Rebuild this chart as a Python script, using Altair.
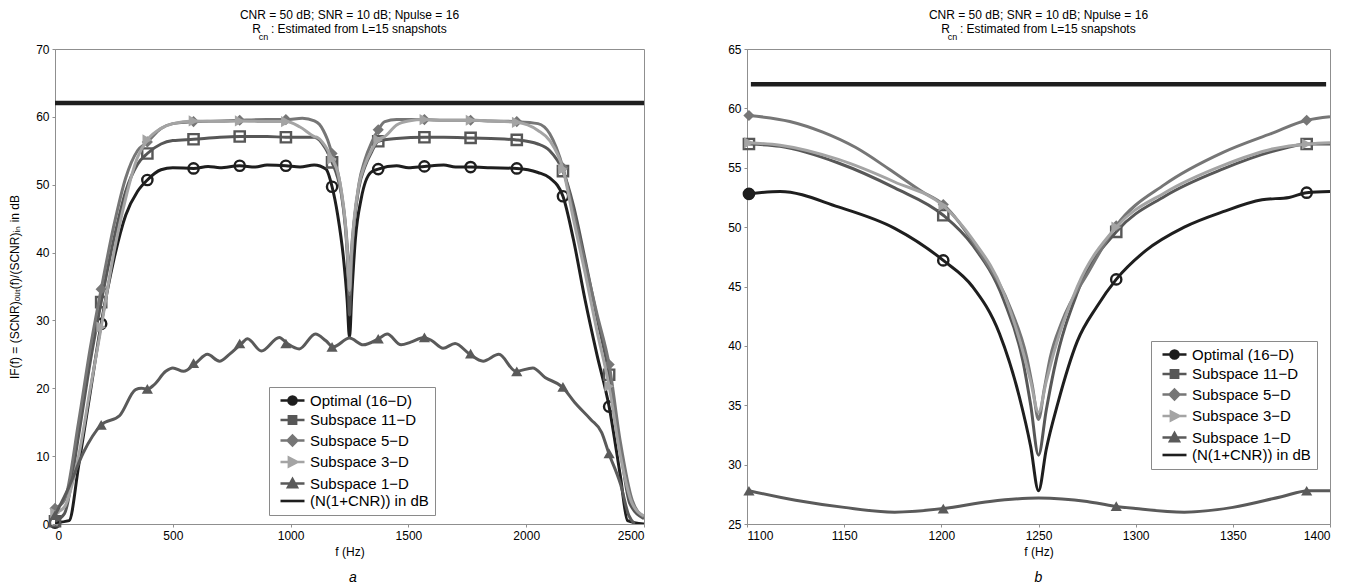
import altair as alt
import pandas as pd

SERIES = ["Optimal (16\u2212D)", "Subspace 11\u2212D", "Subspace 5\u2212D",
          "Subspace 3\u2212D", "Subspace 1\u2212D", "(N(1+CNR)) in dB"]
COLORS = ["#1e1e1e", "#575757", "#767676", "#a4a4a4", "#5a5a5a", "#1e1e1e"]
MARKERS = ["circle", "square", "diamond", "triangle-right", "triangle-up"]
MARKER_FILLED = [False, False, True, True, True]
LEGEND_PATHS = [
    "M-3,0L3,0M1,0A1,1,0,1,1,-1,0A1,1,0,1,1,1,0Z",
    "M-3,0L3,0M-0.9,-0.9L0.9,-0.9L0.9,0.9L-0.9,0.9Z",
    "M-3,0L3,0M0,-1.2L1.2,0L0,1.2L-1.2,0Z",
    "M-3,0L3,0M-0.9,-1.1L1.2,0L-0.9,1.1Z",
    "M-3,0L3,0M0,-1.1L1.1,0.9L-1.1,0.9Z",
    "M-3,0L3,0",
]
N_DB = 62.04

# ---------------- panel a : full band ----------------
A_OPT_F = [0, 60, 100, 150, 196, 250, 300, 350, 392, 450, 500, 588, 650, 700, 784, 850, 900, 980,
           1040, 1100, 1150, 1176, 1200, 1225, 1240, 1250, 1260, 1275, 1300, 1340, 1372, 1450,
           1500, 1568, 1650, 1700, 1764, 1850, 1960, 2050, 2100, 2156, 2200, 2250, 2300, 2352,
           2400, 2430, 2500]
A_OPT_V = [0.2, 0.5, 8.5, 19.5, 29.5, 39.0, 45.5, 49.0, 50.7, 52.2, 52.5, 52.4, 52.7, 52.5, 52.8,
           52.6, 52.9, 52.8, 52.6, 52.9, 52.3, 49.7, 45.5, 39.0, 33.0, 27.5, 34.0, 42.0, 48.0, 51.8,
           52.3, 52.8, 52.5, 52.7, 52.9, 52.6, 52.6, 52.5, 52.4, 51.8, 51.0, 48.3, 42.0, 33.0,
           25.0, 17.3, 7.0, 0.5, 0.0]

A_11_F = [0, 40, 100, 150, 196, 250, 300, 350, 392, 450, 500, 588, 700, 784, 900, 980, 1050,
          1101, 1147, 1176, 1200, 1216, 1232, 1242, 1250, 1258, 1270, 1290, 1315, 1345, 1372,
          1450, 1568, 1650, 1764, 1850, 1960, 2050, 2100, 2156, 2200, 2250, 2300, 2352, 2400,
          2440, 2500]
A_11_V = [0.4, 1.5, 13.0, 24.0, 32.7, 42.0, 49.0, 53.0, 54.6, 56.0, 56.5, 56.7, 57.0, 57.1, 57.1,
          57.0, 57.0, 57.0, 55.4, 53.3, 51.0, 48.5, 43.9, 38.7, 30.8, 38.0, 44.5, 49.6, 52.6,
          54.9, 56.4, 56.8, 57.0, 57.0, 56.9, 56.8, 56.6, 56.0, 55.0, 52.0, 47.0, 39.0, 30.5,
          22.0, 11.0, 3.0, 0.8]

A_5_F = [0, 40, 100, 150, 196, 250, 300, 350, 392, 450, 500, 588, 700, 784, 900, 980, 1050,
         1101, 1122, 1139, 1156, 1173, 1190, 1200, 1220, 1236, 1244, 1250, 1256, 1262, 1276,
         1290, 1315, 1345, 1372, 1400, 1450, 1568, 1650, 1764, 1850, 1960, 2050, 2100, 2156,
         2200, 2250, 2300, 2352, 2400, 2450, 2500]
A_5_V = [2.3, 3.5, 15.0, 26.0, 34.6, 44.0, 51.0, 55.0, 56.3, 58.3, 59.0, 59.3, 59.4, 59.5, 59.6,
         59.6, 59.8, 59.4, 58.9, 58.0, 56.7, 54.9, 53.0, 51.9, 47.8, 43.0, 39.0, 33.8, 39.0,
         42.0, 46.3, 50.1, 53.6, 56.3, 58.1, 59.3, 59.6, 59.6, 59.5, 59.5, 59.4, 59.3, 59.0,
         57.5, 52.5, 46.0, 38.5, 31.0, 23.5, 12.0, 3.5, 1.0]

A_3_F = [0, 40, 100, 150, 196, 250, 300, 350, 392, 450, 500, 588, 700, 784, 900, 980, 1040,
         1101, 1117, 1147, 1176, 1200, 1216, 1232, 1242, 1250, 1258, 1270, 1290, 1315, 1345,
         1371, 1400, 1450, 1500, 1568, 1650, 1764, 1850, 1960, 2050, 2100, 2156, 2200, 2250,
         2300, 2352, 2400, 2450, 2500]
A_3_V = [1.6, 2.5, 10.0, 20.0, 29.0, 40.0, 48.0, 54.0, 56.6, 58.3, 59.0, 59.4, 59.3, 59.4, 59.3,
         59.3, 58.5, 57.1, 56.9, 55.7, 53.8, 51.8, 49.0, 44.5, 39.5, 34.4, 39.5, 45.0, 50.0,
         52.9, 55.2, 56.6, 57.1, 58.8, 59.4, 59.6, 59.5, 59.5, 59.4, 59.2, 58.0, 56.5, 52.3,
         45.0, 37.0, 28.5, 20.3, 10.0, 3.0, 1.2]

A_1_F = [0, 60, 120, 196, 275, 342, 367, 393, 420, 470, 500, 546, 597, 647, 698, 740, 792, 817,
         876, 952, 986, 1037, 1105, 1150, 1181, 1250, 1308, 1373, 1410, 1469, 1510, 1566, 1600,
         1647, 1698, 1758, 1817, 1884, 1956, 2028, 2080, 2153, 2206, 2274, 2320, 2351, 2401,
         2435, 2460]
A_1_V = [1.3, 5.5, 10.5, 14.6, 16.0, 19.8, 20.0, 19.9, 20.5, 22.5, 23.0, 22.5, 23.7, 25.0, 24.0,
         25.0, 26.6, 27.3, 25.5, 27.5, 26.6, 25.8, 28.0, 27.0, 26.1, 27.4, 26.4, 27.3, 28.0,
         26.4, 26.8, 27.5, 27.0, 25.9, 26.6, 25.1, 24.0, 25.0, 22.5, 23.0, 21.6, 20.2, 17.9,
         15.4, 13.5, 10.4, 5.8, 1.3, 0.0]

A_MK_F = [0, 196, 392, 588, 784, 980, 1176, 1372, 1568, 1764, 1960, 2156, 2352]
A_MK_OPT = [0.2, 29.5, 50.7, 52.4, 52.8, 52.8, 49.7, 52.3, 52.7, 52.6, 52.4, 48.3, 17.3]
A_MK_11 = [0.4, 32.7, 54.6, 56.7, 57.1, 57.0, 53.3, 56.4, 57.0, 56.9, 56.6, 52.0, 22.0]
A_MK_5 = [2.3, 34.6, 56.3, 59.3, 59.5, 59.6, 54.6, 58.1, 59.6, 59.5, 59.3, 52.5, 23.5]
A_MK_3 = [1.6, 29.0, 56.6, 59.4, 59.4, 59.3, 53.8, 56.6, 59.6, 59.5, 59.2, 52.3, 20.3]
A_MK_1 = [1.3, 14.6, 19.9, 23.7, 26.6, 26.6, 26.1, 27.3, 27.5, 25.1, 22.5, 20.2, 10.4]
A_N_F = [0, 2500]
A_SOLID_F = []
A_SOLID_V = []

# ---------------- panel b : zoom around 1250 Hz ----------------
B_OPT_F = [1101, 1117, 1147, 1176, 1201, 1216, 1230, 1240, 1246, 1250, 1254, 1260, 1270, 1280,
           1290, 1305, 1325, 1345, 1365, 1379, 1388, 1400]
B_OPT_V = [52.8, 53.0, 51.7, 49.9, 47.2, 45.0, 41.0, 35.8, 31.5, 27.8, 31.3, 35.2, 40.4, 43.3,
           45.6, 48.0, 50.0, 51.3, 52.3, 52.5, 52.9, 53.0]
B_11_F = [1101, 1117, 1147, 1176, 1201, 1216, 1232, 1242, 1246, 1250, 1254, 1258, 1270, 1290,
          1315, 1345, 1371, 1389, 1400]
B_11_V = [57.0, 56.8, 55.4, 53.3, 51.0, 48.5, 43.9, 38.7, 35.0, 30.8, 34.6, 38.0, 44.5, 49.6,
          52.6, 54.9, 56.4, 57.0, 57.0]
B_5_F = [1101, 1122, 1139, 1156, 1173, 1190, 1201, 1220, 1236, 1244, 1247, 1250, 1253, 1256,
         1262, 1276, 1290, 1315, 1345, 1370, 1388, 1400]
B_5_V = [59.4, 58.9, 58.0, 56.7, 54.9, 53.0, 51.9, 47.8, 43.0, 39.0, 36.5, 33.8, 36.4, 39.0,
         42.0, 46.3, 50.1, 53.6, 56.3, 57.9, 59.0, 59.3]
B_3_F = [1101, 1117, 1147, 1176, 1201, 1216, 1232, 1242, 1246, 1250, 1254, 1258, 1270, 1290,
         1315, 1345, 1371, 1389, 1400]
B_3_V = [57.1, 56.9, 55.7, 53.8, 51.8, 49.0, 44.5, 39.5, 37.0, 34.4, 37.0, 39.5, 45.0, 50.0,
         52.9, 55.2, 56.6, 57.0, 57.1]
B_1_F = [1101, 1125, 1150, 1176, 1201, 1225, 1250, 1275, 1289, 1300, 1325, 1350, 1375, 1389, 1400]
B_1_V = [27.8, 27.0, 26.4, 26.0, 26.3, 26.9, 27.2, 26.9, 26.5, 26.3, 26.0, 26.4, 27.3, 27.8, 27.8]

B_MK_F = [1101, 1201, 1290, 1388]
B_MK_OPT = [52.8, 47.2, 45.6, 52.9]
B_MK_11 = [57.0, 51.0, 49.6, 57.0]
B_MK_5 = [59.4, 51.9, 50.1, 59.0]
B_MK_3 = [57.1, 51.8, 50.0, 57.0]
B_MK_1 = [27.8, 26.3, 26.5, 27.8]
B_N_F = [1102, 1398]
B_SOLID_F = [1101]
B_SOLID_V = [52.8]

TITLE_1 = "CNR = 50 dB; SNR = 10 dB; Npulse = 16"
TITLE_2 = "R\u00a0\u00a0\u00a0: Estimated from L=15 snapshots"
SUB_CN = "cn" + "\u00a0" * 66 + "\u2800"
Y_TITLE = "IF(f) = (SCNR)\u2092\u1d64\u209c(f)/(SCNR)\u1d62\u2099  in dB"
FONT = "Liberation Sans"


def build_panel(curves, marks, mk_f, n_f, solid, xdom, xvals, ydom, yvals, ytitle,
                leg_x, leg_y, width, height):
    x_enc = alt.X("f:Q", scale=alt.Scale(domain=xdom, nice=False, zero=False),
                  axis=alt.Axis(values=xvals, title="f (Hz)", format="d", titlePadding=5))
    if ytitle:
        y_axis = alt.Axis(values=yvals, title=ytitle, titlePadding=14)
    else:
        y_axis = alt.Axis(values=yvals, title=None)
    y_enc = alt.Y("v:Q", scale=alt.Scale(domain=ydom, nice=False, zero=False), axis=y_axis)

    layers = []
    for i in range(5):
        fs, vs = curves[i]
        ldf = pd.DataFrame({"f": fs, "v": vs})
        layers.append(
            alt.Chart(ldf).mark_line(interpolate="monotone", strokeWidth=3,
                                     color=COLORS[i], clip=True)
            .encode(x=x_enc, y=y_enc))
        mdf = pd.DataFrame({"f": mk_f, "v": marks[i]})
        if MARKER_FILLED[i]:
            pm = alt.Chart(mdf).mark_point(shape=MARKERS[i], filled=True, size=125,
                                           color=COLORS[i], opacity=1)
        else:
            pm = alt.Chart(mdf).mark_point(shape=MARKERS[i], filled=False, size=105,
                                           strokeWidth=2.4, color=COLORS[i], opacity=1)
        layers.append(pm.encode(x=x_enc, y=y_enc))

    if solid[0]:
        sdf = pd.DataFrame({"f": solid[0], "v": solid[1]})
        layers.append(alt.Chart(sdf).mark_point(shape="circle", filled=True, size=130,
                                                color=COLORS[0], opacity=1)
                      .encode(x=x_enc, y=y_enc))

    ndf = pd.DataFrame({"f": n_f, "v": [N_DB] * len(n_f)})
    layers.append(alt.Chart(ndf).mark_line(strokeWidth=4.5, color=COLORS[5])
                  .encode(x=x_enc, y=y_enc))

    leg = alt.Legend(title=None, orient="none", legendX=leg_x, legendY=leg_y,
                     fillColor="white", strokeColor="#8a8a8a", padding=6,
                     symbolSize=64, symbolStrokeWidth=2.6, symbolOffset=10,
                     labelOffset=10, rowPadding=0.5, labelFontSize=15, labelFont=FONT,
                     labelColor="black", labelLimit=300)
    legdf = pd.DataFrame({"s": SERIES})
    layers.append(
        alt.Chart(legdf).transform_filter("false").mark_point(filled=True, opacity=1)
        .encode(
            fill=alt.Fill("s:N", scale=alt.Scale(domain=SERIES, range=COLORS), legend=leg),
            stroke=alt.Stroke("s:N", scale=alt.Scale(domain=SERIES, range=COLORS), legend=leg),
            shape=alt.Shape("s:N", scale=alt.Scale(domain=SERIES, range=LEGEND_PATHS), legend=leg),
        ))

    title = alt.TitleParams(text=[TITLE_1, TITLE_2], subtitle=SUB_CN, fontSize=12,
                            fontWeight="normal", font=FONT, subtitleFont=FONT,
                            subtitleFontSize=9, subtitlePadding=-3, color="black",
                            subtitleColor="black", anchor="middle", offset=0, lineHeight=14)
    return alt.layer(*layers).properties(width=width, height=height, title=title)


panel_a = build_panel(
    [(A_OPT_F, A_OPT_V), (A_11_F, A_11_V), (A_5_F, A_5_V), (A_3_F, A_3_V), (A_1_F, A_1_V)],
    [A_MK_OPT, A_MK_11, A_MK_5, A_MK_3, A_MK_1], A_MK_F, A_N_F, (A_SOLID_F, A_SOLID_V),
    [0, 2500], [0, 500, 1000, 1500, 2000, 2500],
    [0, 70], [0, 10, 20, 30, 40, 50, 60, 70], Y_TITLE,
    214, 338, 589, 475)

panel_b = build_panel(
    [(B_OPT_F, B_OPT_V), (B_11_F, B_11_V), (B_5_F, B_5_V), (B_3_F, B_3_V), (B_1_F, B_1_V)],
    [B_MK_OPT, B_MK_11, B_MK_5, B_MK_3, B_MK_1], B_MK_F, B_N_F, (B_SOLID_F, B_SOLID_V),
    [1100, 1400], [1100, 1150, 1200, 1250, 1300, 1350, 1400],
    [25, 65], [25, 30, 35, 40, 45, 50, 55, 60, 65], None,
    404, 292, 583, 475)


def lettered(panel, letter, dx):
    return alt.vconcat(panel).properties(
        title=alt.TitleParams(text=letter, orient="bottom", fontStyle="italic", fontSize=14,
                              fontWeight="normal", font=FONT, color="black",
                              anchor="middle", frame="bounds", offset=13, dx=dx))


chart = (
    alt.hconcat(lettered(panel_a, "a", 22), lettered(panel_b, "b", 7), spacing=73)
    .properties(padding=0)
    .resolve_scale(fill="independent", stroke="independent", shape="independent")
    .resolve_legend(fill="independent", stroke="independent", shape="independent")
    .configure_view(stroke="#8f8f8f", strokeWidth=1)
    .configure_axis(labelFont=FONT, labelFontSize=12, labelColor="black",
                    titleFont=FONT, titleFontSize=12, titleFontWeight="normal",
                    titleColor="black", domainColor="#8f8f8f", tickColor="#8f8f8f",
                    tickSize=3, grid=False, labelPadding=3)
)

chart.save("out.html", embed_options={"renderer": "svg", "actions": False})
